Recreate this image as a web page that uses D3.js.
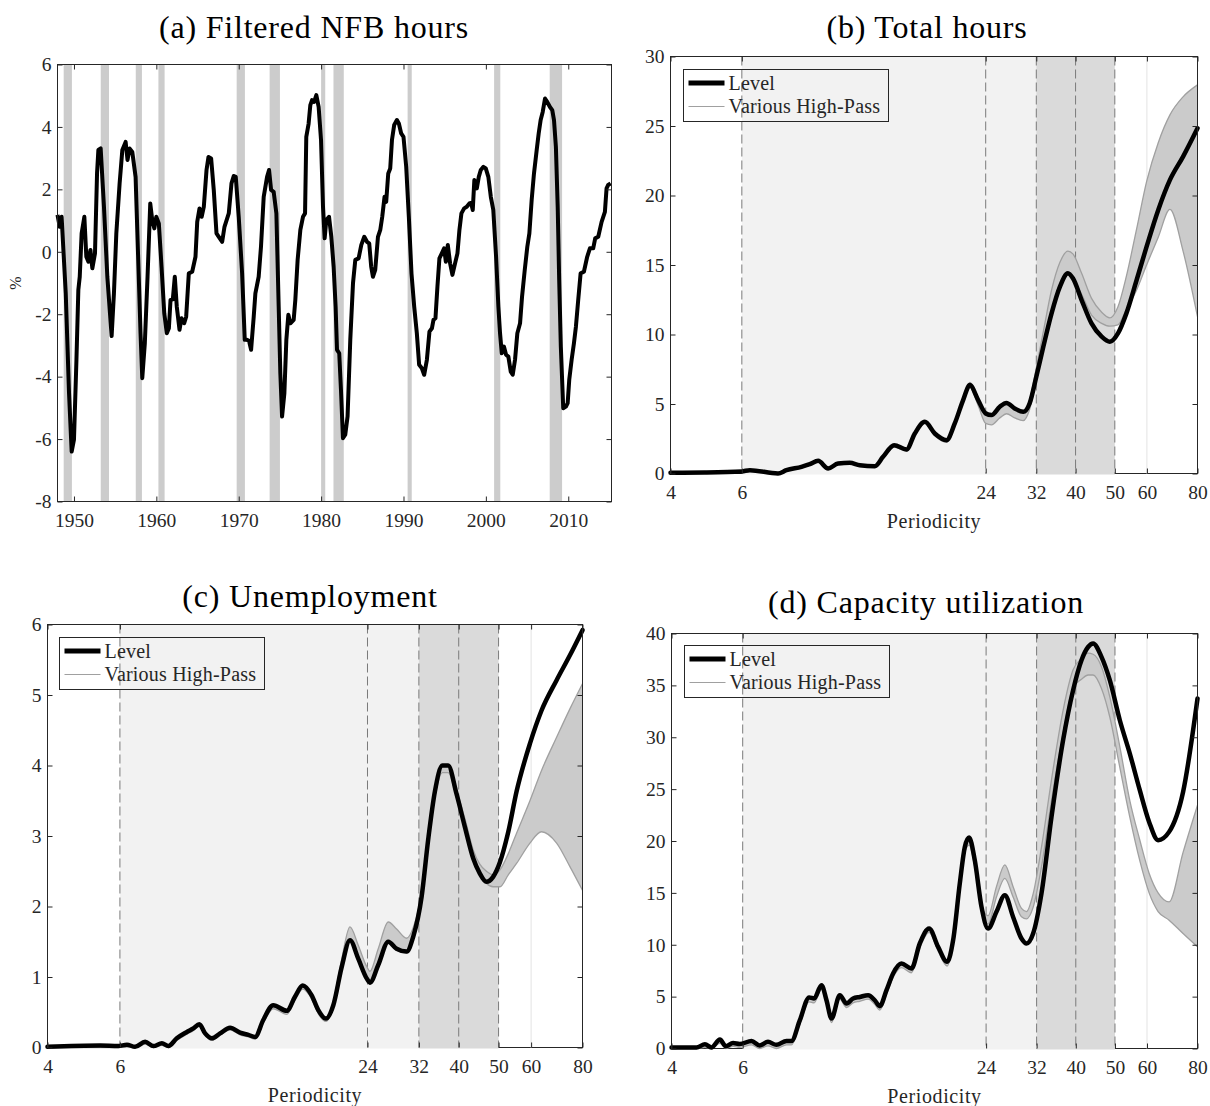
<!DOCTYPE html>
<html><head><meta charset="utf-8">
<script src="https://cdn.jsdelivr.net/npm/d3@7"></script>
<style>body{margin:0;background:#fff}</style>
</head><body>
<script>
// ---------------- DATA ----------------
// (a) Filtered NFB hours, %
const hoursYears = [1948.0,1948.27,1948.5,1949.0,1949.4,1949.72,1950.0,1950.3,1950.53,1950.7,1950.93,1951.26,1951.5,1951.75,1952.0,1952.23,1952.55,1952.8,1952.96,1953.24,1953.64,1954.05,1954.57,1954.85,1955.14,1955.54,1955.87,1956.27,1956.5,1956.75,1957.08,1957.48,1957.8,1958.08,1958.29,1958.6,1958.93,1959.26,1959.5,1959.75,1959.99,1960.3,1960.63,1960.96,1961.27,1961.52,1961.72,1962.0,1962.24,1962.48,1962.81,1963.05,1963.38,1963.62,1963.94,1964.35,1964.75,1964.96,1965.24,1965.5,1965.76,1966.09,1966.33,1966.65,1966.97,1967.3,1967.58,1967.99,1968.27,1968.79,1969.12,1969.4,1969.64,1970.0,1970.41,1970.73,1971.0,1971.25,1971.5,1971.82,1972.02,1972.42,1972.7,1973.03,1973.44,1973.68,1973.93,1974.24,1974.57,1974.85,1975.05,1975.26,1975.54,1975.78,1976.02,1976.27,1976.67,1976.87,1977.15,1977.48,1977.8,1978.05,1978.2,1978.48,1978.69,1978.9,1979.15,1979.42,1979.7,1979.99,1980.23,1980.43,1980.63,1980.96,1981.24,1981.52,1981.76,1981.93,1982.2,1982.41,1982.65,1982.93,1983.21,1983.54,1983.87,1984.15,1984.55,1984.88,1985.24,1985.57,1985.84,1986.08,1986.29,1986.57,1986.9,1987.18,1987.42,1987.7,1987.9,1988.15,1988.39,1988.6,1988.87,1989.2,1989.44,1989.72,1990.0,1990.33,1990.65,1990.97,1991.3,1991.62,1991.9,1992.23,1992.51,1992.84,1993.15,1993.45,1993.64,1993.88,1994.12,1994.36,1994.65,1994.93,1995.14,1995.38,1995.66,1995.94,1996.26,1996.55,1996.79,1997.03,1997.36,1997.68,1998.0,1998.2,1998.41,1998.6,1998.9,1999.14,1999.38,1999.7,1999.99,2000.3,2000.6,2000.9,2001.24,2001.52,2001.72,2001.93,2002.2,2002.45,2002.73,2003.02,2003.26,2003.54,2003.82,2004.15,2004.39,2004.72,2005.03,2005.28,2005.56,2005.84,2006.17,2006.41,2006.65,2006.9,2007.18,2007.45,2007.78,2008.06,2008.27,2008.5,2008.72,2008.9,2009.1,2009.39,2009.72,2009.93,2010.12,2010.41,2010.69,2010.93,2011.21,2011.5,2011.9,2012.3,2012.63,2013.03,2013.27,2013.64,2014.05,2014.45,2014.65,2014.85,2015.14];
const hoursValues = [1.18,0.80,1.12,-1.33,-4.53,-6.4,-6.02,-3.46,-1.22,-0.8,0.59,1.12,-0.16,-0.32,0.06,-0.53,-0.05,2.51,3.26,3.31,1.44,-0.8,-2.7,-1.33,0.59,2.19,3.26,3.52,2.94,3.31,3.20,2.40,-0.26,-2.61,-4.05,-2.93,-0.8,1.55,1.02,0.75,1.12,0.91,-0.48,-1.97,-2.61,-2.45,-1.54,-1.52,-0.8,-1.76,-2.5,-2.13,-2.29,-2.08,-0.69,-0.64,-0.16,0.96,1.39,1.12,1.44,2.62,3.04,2.99,1.98,0.59,0.48,0.32,0.80,1.23,2.19,2.43,2.40,1.12,-0.69,-2.82,-2.82,-2.85,-3.14,-2.08,-1.33,-0.8,0.16,1.76,2.40,2.62,1.98,1.92,1.23,-1.76,-3.89,-5.28,-4.53,-2.82,-2.02,-2.29,-2.18,-1.54,-0.26,0.70,1.12,1.23,3.68,4.1,4.70,4.86,4.80,5.02,4.64,3.58,1.44,0.43,1.02,1.12,0.48,-0.48,-1.76,-3.14,-3.25,-4.42,-5.97,-5.86,-5.28,-2.82,-1.01,-0.26,-0.21,0.22,0.48,0.32,0.27,-0.48,-0.8,-0.58,0.48,0.70,1.12,1.76,1.6,2.51,2.67,3.58,4.06,4.22,4.11,3.79,3.68,2.72,1.12,-0.69,-1.76,-2.61,-3.62,-3.73,-3.94,-3.46,-2.56,-2.45,-2.18,-2.13,-1.12,-0.21,-0.05,0.11,-0.32,0.22,-0.37,-0.74,-0.37,-0.05,0.70,1.23,1.39,1.44,1.55,1.57,1.34,2.30,2.03,2.40,2.62,2.72,2.67,2.40,1.76,1.34,-0.16,-1.76,-2.61,-3.25,-3.04,-3.3,-3.36,-3.84,-3.94,-3.46,-2.61,-2.29,-1.44,-0.58,0.16,0.59,1.66,2.51,3.26,3.79,4.22,4.48,4.91,4.80,4.64,4.54,4.22,3.36,1.44,-0.9,-3.04,-5.01,-4.96,-4.85,-4.10,-3.46,-2.93,-2.40,-1.54,-0.69,-0.64,-0.16,0.11,0.11,0.43,0.48,0.96,1.28,2.03,2.14,2.19];
const recessionStarts = [1948.75,1953.25,1957.5,1960.25,1969.75,1973.75,1980.0,1981.5,1990.5,2001.0,2007.75];
const recessionEnds   = [1949.75,1954.25,1958.25,1961.0,1970.75,1975.0,1980.5,1982.75,1991.0,2001.75,2009.25];
const yearTicks = [1950,1960,1970,1980,1990,2000,2010];
const hoursTicks = [-8,-6,-4,-2,0,2,4,6];

// Shared periodicity axis
const periodTicks = [4,6,24,32,40,50,60,80];
const lightBand = [6,32];
const darkBand = [32,50];
const dashedPeriods = [6,24,32,40,50];
const solidPeriods = [60];

// (b) Total hours
const bPeriod = [4,4.86,6,6.28,7.37,7.73,8.42,8.83,9.26,9.80,10.37,11.08,11.73,12.78,13.39,14.26,15.30,16.04,16.98,17.97,19.21,20.13,21.11,21.93,22.99,24.0,24.8,26.0,27.0,28.3,29.7,30.8,32.0,33.3,34.9,36.6,38.3,39.4,41.4,43.8,46.4,48.6,50.9,53.4,56.6,59.9,64.0,68.4,73.7,80];
const bLevel  = [0.05,0.07,0.15,0.24,0.0,0.24,0.48,0.67,0.91,0.36,0.72,0.77,0.6,0.53,1.2,2.04,1.73,2.88,3.72,2.88,2.4,3.6,5.28,6.36,5.28,4.32,4.2,4.8,5.08,4.68,4.44,5.04,6.96,9.12,11.52,13.44,14.4,14.04,12.48,10.8,9.84,9.48,10.08,11.52,13.92,16.32,18.96,21.12,22.8,24.84];
const bHPHigh = [0.05,0.07,0.15,0.24,0.02,0.24,0.48,0.67,0.91,0.36,0.72,0.77,0.6,0.53,1.2,2.04,1.73,2.88,3.75,2.88,2.45,3.6,5.35,6.55,5.4,4.5,4.3,4.8,5.1,4.7,4.5,5.3,7.6,10.2,13.2,15.2,16.0,15.8,14.4,12.6,11.6,11.2,12.0,14.2,17.6,21.0,23.8,25.8,27.1,27.96];
const bHPLow  = [0.02,0.03,0.1,0.18,0.0,0.18,0.4,0.6,0.82,0.3,0.64,0.68,0.52,0.45,1.1,1.9,1.6,2.75,3.6,2.72,2.25,3.45,5.1,6.2,4.9,3.6,3.5,4.0,4.3,4.0,3.8,4.6,6.8,9.0,11.4,13.3,14.3,14.0,12.9,11.4,10.8,10.6,10.7,11.8,13.2,15.0,17.0,19.0,16.0,11.28];
const bYTicks = [0,5,10,15,20,25,30];

// (c) Unemployment
const cPeriod = [4,5.37,5.95,6.24,6.53,6.91,7.24,7.59,7.87,8.25,8.73,9.05,9.36,9.67,10.04,10.51,11.12,11.76,12.32,12.79,13.39,14.16,15.27,15.99,16.70,17.56,18.22,19.02,19.82,20.77,21.76,22.79,23.89,24.33,25.49,26.96,28.25,29.88,31.0,32.5,33.7,35.0,36.5,37.7,39.5,41.4,43.4,45.0,46.7,48.5,50.4,52.8,55.3,59.6,63.6,69.2,74.5,80];
const cLevel  = [0.01,0.03,0.02,0.04,0.01,0.08,0.02,0.06,0.02,0.13,0.22,0.27,0.33,0.2,0.13,0.2,0.28,0.21,0.18,0.15,0.39,0.6,0.52,0.72,0.88,0.74,0.53,0.41,0.6,1.14,1.52,1.26,0.98,0.92,1.17,1.5,1.4,1.36,1.57,2.14,2.94,3.63,4.0,4.0,3.6,3.13,2.68,2.47,2.35,2.42,2.63,3.06,3.63,4.31,4.78,5.21,5.56,5.92];
const cHPHigh = [0.01,0.03,0.02,0.04,0.01,0.08,0.02,0.06,0.02,0.13,0.22,0.27,0.33,0.2,0.13,0.2,0.28,0.21,0.18,0.15,0.39,0.6,0.52,0.72,0.88,0.74,0.53,0.41,0.65,1.25,1.71,1.45,1.15,1.08,1.4,1.78,1.68,1.55,1.7,2.2,2.94,3.63,4.0,4.0,3.65,3.25,2.8,2.6,2.5,2.45,2.52,2.75,3.04,3.5,3.93,4.4,4.8,5.16];
const cHPLow  = [0.0,0.0,0.0,0.01,0.0,0.05,0.0,0.03,0.0,0.1,0.19,0.24,0.3,0.17,0.1,0.17,0.25,0.18,0.15,0.12,0.35,0.55,0.47,0.67,0.83,0.69,0.48,0.37,0.57,1.12,1.5,1.24,0.96,0.9,1.15,1.48,1.38,1.34,1.55,2.05,2.85,3.55,3.9,3.9,3.55,3.1,2.68,2.47,2.33,2.28,2.28,2.45,2.61,2.9,3.06,2.9,2.57,2.23];
const cYTicks = [0,1,2,3,4,5,6];

// (d) Capacity utilization
const dPeriod = [4,4.61,4.84,5.02,5.27,5.45,5.68,5.90,6.31,6.61,6.93,7.27,7.70,7.92,8.31,8.76,9.01,9.40,9.67,9.95,10.43,10.84,11.25,11.69,12.26,12.73,13.10,13.61,14.13,14.82,15.69,16.45,17.35,18.26,19.22,19.89,20.66,21.26,21.78,22.50,23.38,24.27,25.46,26.70,27.99,29.36,30.21,31.37,32.90,34.83,37.21,39.39,41.32,42.90,44.14,46.30,48.55,51.40,54.41,57.59,60.73,63.92,68.05,73.69,80];
const dLevel  = [0.1,0.1,0.41,0.1,0.87,0.22,0.54,0.43,0.73,0.3,0.64,0.35,0.73,0.73,2.73,4.92,4.82,6.1,4.65,2.89,5.14,4.34,4.82,4.97,5.14,4.65,4.08,5.62,7.23,8.19,7.71,10.12,11.57,9.8,8.35,10.44,15.9,19.43,20.34,18.15,13.65,11.57,13.17,14.78,12.68,10.6,10.12,11.08,14.94,22.32,29.72,34.54,37.43,38.7,39.04,37.75,35.5,31.64,28.43,24.9,21.84,20.08,20.88,24.73,33.73];
const dHPHigh = [0.1,0.1,0.41,0.1,0.87,0.22,0.54,0.43,0.73,0.3,0.64,0.35,0.73,0.73,2.73,4.92,4.82,6.1,4.65,2.89,5.14,4.34,4.82,4.97,5.14,4.65,4.08,5.62,7.23,8.19,7.71,10.12,11.57,9.8,8.35,10.44,15.8,19.3,20.1,18.0,13.8,12.8,15.6,17.7,15.6,13.5,13.2,14.9,19.4,25.9,32.6,36.5,37.6,38.1,38.0,36.8,33.9,29.1,23.9,20.1,16.9,15.0,14.13,18.9,23.45];
const dHPLow  = [0.0,0.0,0.1,0.0,0.5,0.0,0.2,0.1,0.35,0.0,0.25,0.0,0.35,0.35,2.35,4.5,4.4,5.7,4.25,2.5,4.75,3.95,4.4,4.55,4.75,4.25,3.7,5.2,6.85,7.8,7.3,9.7,11.2,9.4,7.95,10.0,15.3,18.9,19.6,17.5,13.2,12.0,14.6,16.4,14.6,12.7,12.5,13.6,17.5,23.9,30.4,34.8,35.6,36.0,36.0,34.7,31.95,27.1,22.3,18.1,15.0,13.2,12.37,11.08,9.8];
const dYTicks = [0,5,10,15,20,25,30,35,40];

const legendLabels = ['Level','Various High-Pass'];

// ---------------- DRAWING ----------------
const W = 1210, H = 1106;
const FONT = "'Liberation Serif','Times New Roman',serif";
const AX = '#262626';
const svg = d3.select('body').append('svg').attr('width', W).attr('height', H).style('display','block');
svg.append('rect').attr('width', W).attr('height', H).attr('fill', '#fff');

function styleAxis(sel, fs) {
  sel.attr('font-family', FONT).attr('font-size', fs);
  sel.select('.domain').remove();
  sel.selectAll('line').attr('stroke', AX).attr('stroke-width', 1);
  sel.selectAll('text').attr('fill', AX);
}

function drawAxes(g, x, y, xTicks, yTicks, fmtX, fmtY) {
  const [x0, x1] = x.range();
  const [y0, y1] = y.range();
  g.append('g').attr('transform', `translate(0,${y0})`)
    .call(d3.axisBottom(x).tickValues(xTicks).tickFormat(fmtX).tickSizeInner(-5).tickSizeOuter(0).tickPadding(12))
    .call(s => styleAxis(s, 19.5));
  g.append('g').attr('transform', `translate(0,${y1})`)
    .call(d3.axisTop(x).tickValues(xTicks).tickFormat('').tickSizeInner(-5).tickSizeOuter(0))
    .call(s => styleAxis(s, 19.5));
  g.append('g').attr('transform', `translate(${x0},0)`)
    .call(d3.axisLeft(y).tickValues(yTicks).tickFormat(fmtY).tickSizeInner(-5).tickSizeOuter(0).tickPadding(6))
    .call(s => styleAxis(s, 19.5));
  g.append('g').attr('transform', `translate(${x1},0)`)
    .call(d3.axisRight(y).tickValues(yTicks).tickFormat('').tickSizeInner(-5).tickSizeOuter(0))
    .call(s => styleAxis(s, 19.5));
}

function frame(g, x, y, sides) {
  const [x0, x1] = x.range();
  const [y0, y1] = y.range();
  const segs = {
    bottom: [x0, y0, x1, y0], top: [x0, y1, x1, y1],
    left: [x0, y0, x0, y1], right: [x1, y0, x1, y1]
  };
  sides.forEach(s => {
    const c = segs[s];
    g.append('line').attr('x1', c[0]).attr('y1', c[1]).attr('x2', c[2]).attr('y2', c[3])
      .attr('stroke', AX).attr('stroke-width', 1).attr('stroke-linecap', 'square');
  });
}

function title(txt, cx, by) {
  svg.append('text').attr('x', cx).attr('y', by).attr('text-anchor', 'middle')
    .attr('font-family', FONT).attr('font-size', 32).attr('letter-spacing', 0.8)
    .attr('fill', '#000').text(txt);
}

// ---- Panel (a)
(function () {
  const g = svg.append('g');
  const x = d3.scaleLinear().domain([1948, 2015.25]).range([57.5, 611.5]);
  const y = d3.scaleLinear().domain([-8, 6]).range([501.5, 64.5]);
  const rec = recessionStarts.map((s, i) => ({ s, e: recessionEnds[i] }));
  g.selectAll('rect.rec').data(rec).join('rect')
    .attr('x', d => x(d.s)).attr('width', d => x(d.e) - x(d.s))
    .attr('y', y(6)).attr('height', y(-8) - y(6)).attr('fill', '#cccccc');
  const pts = hoursYears.map((t, i) => [t, hoursValues[i]]);
  g.append('path').datum(pts)
    .attr('d', d3.line().x(d => x(d[0])).y(d => y(d[1])))
    .attr('fill', 'none').attr('stroke', '#000').attr('stroke-width', 4).attr('stroke-linejoin', 'round');
  frame(g, x, y, ['bottom', 'top', 'left', 'right']);
  drawAxes(g, x, y, yearTicks, hoursTicks, d3.format('d'), d => String(d));
  svg.append('text').attr('transform', `translate(21,283) rotate(-90)`).attr('text-anchor', 'middle')
    .attr('font-family', FONT).attr('font-size', 16).attr('fill', AX).text('%');
  title('(a) Filtered NFB hours', 314, 38);
})();

// ---- Spectral panels
function spectral(cfg) {
  const g = svg.append('g');
  const x = d3.scaleLog().domain([4, 80]).range([cfg.left, cfg.right]);
  const y = d3.scaleLinear().domain([0, cfg.yMax]).range([cfg.bottom, cfg.top]);
  frame(g, x, y, ['bottom']);
  // shaded bands
  g.append('rect').attr('x', x(lightBand[0])).attr('width', x(lightBand[1]) - x(lightBand[0]))
    .attr('y', cfg.top).attr('height', cfg.bottom - cfg.top + 1).attr('fill', '#f2f2f2');
  g.append('rect').attr('x', x(darkBand[0])).attr('width', x(darkBand[1]) - x(darkBand[0]))
    .attr('y', cfg.top).attr('height', cfg.bottom - cfg.top + 1).attr('fill', '#dadada');
  g.selectAll('line.solid').data(solidPeriods).join('line')
    .attr('x1', d => x(d)).attr('x2', d => x(d)).attr('y1', cfg.top).attr('y2', cfg.bottom)
    .attr('stroke', '#e3e3e3').attr('stroke-width', 1);
  g.selectAll('line.dash').data(dashedPeriods).join('line')
    .attr('x1', d => x(d)).attr('x2', d => x(d)).attr('y1', cfg.top).attr('y2', cfg.bottom)
    .attr('stroke', '#7a7a7a').attr('stroke-width', 1).attr('stroke-dasharray', '9,4');
  // high-pass family envelope
  const hp = cfg.period.map((p, i) => ({ p, lo: cfg.hpLow[i], hi: cfg.hpHigh[i] }));
  g.append('path').datum(hp)
    .attr('d', d3.area().x(d => x(d.p)).y0(d => y(d.lo)).y1(d => y(d.hi)).curve(d3.curveMonotoneX))
    .attr('fill', '#cbcbcb').attr('stroke', 'none');
  ['lo', 'hi'].forEach(k => {
    g.append('path').datum(hp)
      .attr('d', d3.line().x(d => x(d.p)).y(d => y(d[k])).curve(d3.curveMonotoneX))
      .attr('fill', 'none').attr('stroke', '#a0a0a0').attr('stroke-width', 1.3);
  });
  // level
  const lv = cfg.period.map((p, i) => [p, cfg.level[i]]);
  g.append('path').datum(lv)
    .attr('d', d3.line().x(d => x(d[0])).y(d => y(d[1])).curve(d3.curveMonotoneX))
    .attr('fill', 'none').attr('stroke', '#000').attr('stroke-width', 4.5)
    .attr('stroke-linejoin', 'round').attr('stroke-linecap', 'round');
  frame(g, x, y, ['top', 'left', 'right']);
  drawAxes(g, x, y, periodTicks, cfg.yTicks, d => String(d), d => String(d));
  g.append('text').attr('x', (cfg.left + cfg.right) / 2).attr('y', cfg.bottom + 54)
    .attr('text-anchor', 'middle').attr('font-family', FONT).attr('font-size', 20)
    .attr('letter-spacing', 0.6).attr('fill', AX).text('Periodicity');
  // legend
  const lg = g.append('g').attr('transform', `translate(${cfg.left + cfg.legDx},${cfg.top + cfg.legDy})`);
  lg.append('rect').attr('x', 0).attr('y', 0).attr('width', 205).attr('height', 52)
    .attr('fill', 'none').attr('stroke', AX).attr('stroke-width', 1);
  lg.append('line').attr('x1', 5).attr('x2', 41).attr('y1', 13.5).attr('y2', 13.5)
    .attr('stroke', '#000').attr('stroke-width', 5);
  lg.append('line').attr('x1', 5).attr('x2', 41).attr('y1', 37).attr('y2', 37)
    .attr('stroke', '#a0a0a0').attr('stroke-width', 1.2);
  lg.selectAll('text').data(legendLabels).join('text')
    .attr('x', 45).attr('y', (d, i) => i === 0 ? 20 : 43.5)
    .attr('font-family', FONT).attr('font-size', 20).attr('letter-spacing', 0.2)
    .attr('fill', AX).text(d => d);
  title(cfg.title, cfg.titleX, cfg.titleY);
}

spectral({ title: '(b) Total hours', titleX: 927, titleY: 38, left: 670.5, right: 1197.5, top: 56.5, bottom: 473.5,
  yMax: 30, yTicks: bYTicks, period: bPeriod, level: bLevel, hpHigh: bHPHigh, hpLow: bHPLow, legDx: 13, legDy: 13 });
spectral({ title: '(c) Unemployment', titleX: 310, titleY: 607, left: 47.5, right: 582.5, top: 624.5, bottom: 1047.5,
  yMax: 6, yTicks: cYTicks, period: cPeriod, level: cLevel, hpHigh: cHPHigh, hpLow: cHPLow, legDx: 12, legDy: 13 });
spectral({ title: '(d) Capacity utilization', titleX: 926, titleY: 613, left: 671.5, right: 1197.5, top: 633.5, bottom: 1048.5,
  yMax: 40, yTicks: dYTicks, period: dPeriod, level: dLevel, hpHigh: dHPHigh, hpLow: dHPLow, legDx: 13, legDy: 12 });
</script>
</body></html>
